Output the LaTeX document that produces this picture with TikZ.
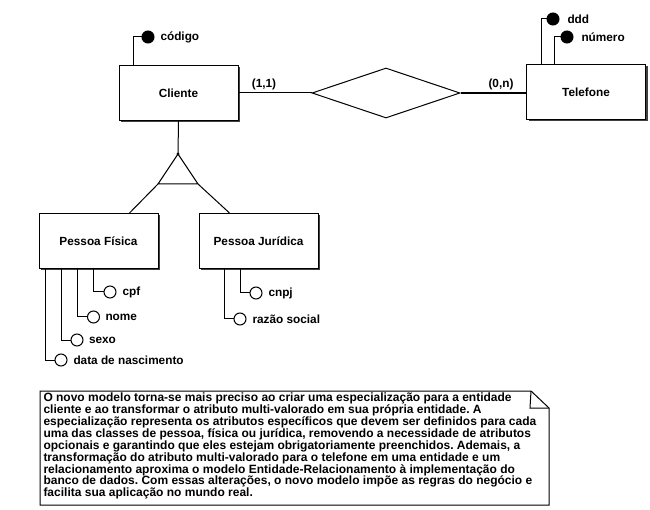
\documentclass[tikz,border=0pt]{standalone}
\usepackage{fontspec}
\setmainfont{Liberation Sans}
\usetikzlibrary{shapes.geometric,shadows}
\frenchspacing
\begin{document}
\begin{tikzpicture}[x=1pt,y=-1pt,line width=1pt,
  every node/.style={font=\fontsize{11.8}{12}\selectfont\bfseries},
  entity/.style={draw,fill=white,rectangle,minimum width=119pt,minimum height=55pt,inner sep=0pt,
    drop shadow={shadow xshift=2pt,shadow yshift=-2pt,fill=black!75,opacity=1}},
  rel/.style={draw,diamond,minimum width=148pt,minimum height=50pt,inner sep=0pt,fill=white},
  keyattr/.style={draw,fill=black,circle,minimum size=12pt,inner sep=0pt},
  attr/.style={draw,fill=white,circle,minimum size=12pt,inner sep=0pt},
  lbl/.style={anchor=west,inner sep=0pt},
  card/.style={inner sep=0pt}]
\useasboundingbox (0,0) rectangle (650,510);

% entities
\node[entity] (cli) at (178.5,93) {Cliente};
\node[entity] (tel) at (586,92) {Telefone};
\node[entity] (pf) at (98.5,241) {Pessoa Física};
\node[entity] (pj) at (258.5,241) {Pessoa Jurídica};

% relationship
\node[rel] (r) at (386,93) {};
\draw (cli.east |- r.west) -- (r.west);
\draw[line width=2pt] (r.east) -- (tel.west |- r.east);
\node[card] at (264,84) {(1,1)};
\node[card] at (501,84) {(0,n)};

% key attributes
\node[keyattr] (cod) at (148,37) {};
\node[lbl] at (160,37) {código};
\draw ([xshift=-45.5pt]cli.north) |- (cod.west);

\node[keyattr] (ddd) at (553,19) {};
\node[lbl] at (567,19) {ddd};
\draw ([xshift=-45pt]tel.north) |- (ddd.west);
\node[keyattr] (num) at (567,37) {};
\node[lbl] at (581,37) {número};
\draw ([xshift=-32pt]tel.north) |- (num.west);

% specialization
\coordinate (apex) at (178,154);
\coordinate (bl) at (158,184);
\coordinate (br) at (198,184);
\draw (cli.south) -- (apex);
\draw (apex) -- (bl) -- (br) -- cycle;
\fill (apex) circle (1.6pt);
\draw (bl) -- ([xshift=-29pt]pf.north east);
\draw (br) -- ([xshift=31pt]pj.north west);

% Pessoa Fisica attributes
\node[attr] (cpf) at (110,292) {};
\node[lbl] at (122,292) {cpf};
\draw ([xshift=55pt]pf.south west) |- (cpf.west);
\node[attr] (nome) at (93.5,317) {};
\node[lbl] at (105,317) {nome};
\draw ([xshift=39pt]pf.south west) |- (nome.west);
\node[attr] (sexo) at (77,340) {};
\node[lbl] at (88.5,340) {sexo};
\draw ([xshift=23pt]pf.south west) |- (sexo.west);
\node[attr] (dn) at (61,360) {};
\node[lbl] at (73,360) {data de nascimento};
\draw ([xshift=7pt]pf.south west) |- (dn.west);

% Pessoa Juridica attributes
\node[attr] (cnpj) at (256,293) {};
\node[lbl] at (268,293) {cnpj};
\draw ([xshift=42pt]pj.south west) |- (cnpj.west);
\node[attr] (rs) at (240,319) {};
\node[lbl] at (252,319) {razão social};
\draw ([xshift=26pt]pj.south west) |- (rs.west);

% note
\coordinate (n1) at (40,391);
\coordinate (n2) at (531,391);
\coordinate (n3) at (549,408);
\coordinate (n4) at (549,505);
\coordinate (n5) at (40,505);
\coordinate (n6) at (530,408);
\draw[fill=white] (n1) -- (n2) -- (n3) -- (n4) -- (n5) -- cycle;
\draw (n2) -- (n6) -- (n3);
\node[anchor=north west,inner sep=0pt,align=left,
  font=\fontsize{12}{11.9}\selectfont\bfseries] (txt) at (43,392.5)
{O novo modelo torna-se mais preciso ao criar uma especialização para a entidade\\
cliente e ao transformar o atributo multi-valorado em sua própria entidade. A\\
especialização representa os atributos específicos que devem ser definidos para cada\\
uma das classes de pessoa, física ou jurídica, removendo a necessidade de atributos\\
opcionais e garantindo que eles estejam obrigatoriamente preenchidos. Ademais, a\\
transformação do atributo multi-valorado para o telefone em uma entidade e um\\
relacionamento aproxima o modelo Entidade-Relacionamento à implementação do\\
banco de dados. Com essas alterações, o novo modelo impõe as regras do negócio e\\
facilita sua aplicação no mundo real.};
\end{tikzpicture}
\end{document}
